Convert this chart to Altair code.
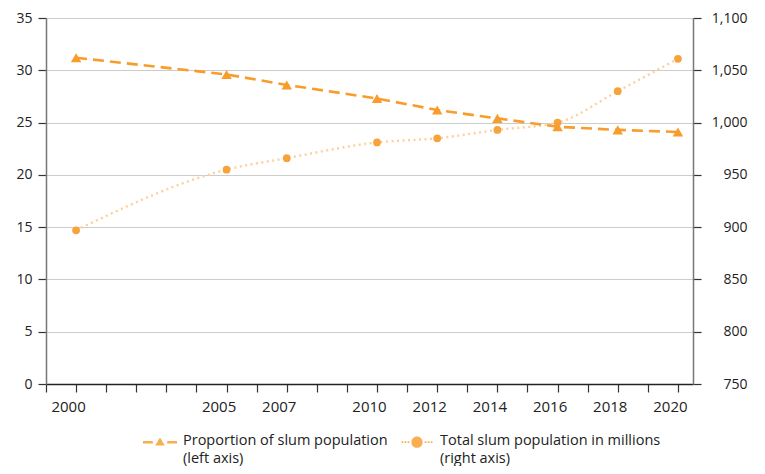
import altair as alt
import pandas as pd

years = [2000, 2005, 2007, 2010, 2012, 2014, 2016, 2018, 2020]
proportion = [31.2, 29.6, 28.6, 27.3, 26.2, 25.4, 24.6, 24.3, 24.1]
total = [897, 955, 966, 981, 985, 993, 1000, 1030, 1061]
labeled_years = [2000, 2005, 2007, 2010, 2012, 2014, 2016, 2018, 2020]
series_names = ["Proportion of slum population|(left axis)",
                "Total slum population in millions|(right axis)"]

FONT = "Open Sans"
ORANGE = "#F89C2C"
CIRCLE = "#F7A33B"
DOTTED = "#FCCF9C"
LEG = "#FAAE52"

df = pd.DataFrame({"year": years, "proportion": proportion, "total": total})
leg_df = pd.DataFrame({"series": series_names})

label_list = ",".join(str(y) for y in labeled_years)
x_enc = alt.X(
    "year:Q",
    scale=alt.Scale(domain=[1999, 2020.5], nice=False, zero=False),
    axis=alt.Axis(
        values=list(range(1999, 2021)), format="d",
        labelExpr=f"indexof([{label_list}], datum.value) >= 0 ? datum.label : ''",
        title=None, grid=False, domainColor="#222", domainWidth=1.5,
        tickColor="#333", tickSize=8, tickWidth=1.2, labelPadding=7,
        labelFlush=False, labelOffset=-8, labelFontSize=15,
    ),
)

y_left = alt.Y(
    "proportion:Q",
    scale=alt.Scale(domain=[0, 35], nice=False),
    axis=alt.Axis(values=list(range(0, 36, 5)), title=None, orient="left",
                  grid=True, gridColor="#cccccc", gridWidth=1,
                  domainColor="#777", domainWidth=1.5, tickColor="#333",
                  tickSize=8, tickWidth=1.2, labelPadding=6),
)
y_right = alt.Y(
    "total:Q",
    scale=alt.Scale(domain=[750, 1100], nice=False, zero=False),
    axis=alt.Axis(values=list(range(750, 1101, 50)),
                  labelExpr="format(datum.value, ',')", title=None,
                  orient="right", grid=False, domainColor="#777",
                  domainWidth=1.5, tickColor="#333", tickSize=8,
                  tickWidth=1.2, labelAlign="right", labelPadding=46),
)

base = alt.Chart(df)
left = alt.layer(
    base.mark_line(color=ORANGE, strokeWidth=2.6, strokeDash=[11, 6]).encode(x=x_enc, y=y_left),
    base.mark_point(shape="triangle-up", filled=True, color=ORANGE, size=110, opacity=1).encode(x=x_enc, y=y_left),
)
right = alt.layer(
    base.mark_line(color=DOTTED, strokeWidth=2.4, strokeDash=[2, 3.5], interpolate="monotone").encode(x=x_enc, y=y_right),
    base.mark_point(shape="circle", filled=True, color=CIRCLE, size=60, opacity=1).encode(x=x_enc, y=y_right),
)

dy = 0.18
tri_path = (f"M-1,{-dy-0.07:.2f} L-0.42,{-dy-0.07:.2f} L-0.42,{-dy+0.07:.2f} L-1,{-dy+0.07:.2f} Z "
            f"M0,{-dy-0.28:.2f} L0.28,{-dy+0.2:.2f} L-0.28,{-dy+0.2:.2f} Z "
            f"M0.42,{-dy-0.07:.2f} L1,{-dy-0.07:.2f} L1,{-dy+0.07:.2f} L0.42,{-dy+0.07:.2f} Z")
dots = ""
for cx in [-0.86, -0.68, -0.5, 0.5, 0.68, 0.86]:
    dots += (f"M{cx-0.05:.2f},{-dy-0.05:.2f} L{cx+0.05:.2f},{-dy-0.05:.2f} "
             f"L{cx+0.05:.2f},{-dy+0.05:.2f} L{cx-0.05:.2f},{-dy+0.05:.2f} Z ")
circ_path = dots + f"M0.33,{-dy:.2f} A0.33,0.33 0 1 1 -0.33,{-dy:.2f} A0.33,0.33 0 1 1 0.33,{-dy:.2f} Z"

dummy = alt.Chart(leg_df).mark_point(filled=True, opacity=0).encode(
    color=alt.Color("series:N",
                    scale=alt.Scale(domain=series_names, range=[LEG, LEG]),
                    legend=alt.Legend(
                        title=None, orient="none", direction="horizontal",
                        legendX=97, legendY=410, symbolSize=1156,
                        symbolOpacity=1, symbolStrokeWidth=0,
                        labelExpr="split(datum.label, '|')",
                        labelBaseline="alphabetic", labelFontSize=14.5,
                        labelFont=FONT, labelColor="#222", labelOffset=6,
                        columnPadding=12, labelLimit=400,
                    )),
    shape=alt.Shape("series:N",
                    scale=alt.Scale(domain=series_names, range=[tri_path, circ_path]),
                    legend=None),
)

chart = alt.layer(right, left, dummy).resolve_scale(y="independent").properties(
    width=647, height=366,
    autosize=alt.AutoSizeParams(type="none"),
    padding={"left": 38, "top": 10, "right": 64, "bottom": 82},
).configure(
    view={"stroke": None},
    axis={"labelFont": FONT, "labelFontSize": 14, "labelColor": "#222"},
    legend={"labelFont": FONT},
    style={"guide-label": {"lineHeight": 18}},
)

chart.save("out.html", embed_options={"renderer": "svg", "actions": False})
